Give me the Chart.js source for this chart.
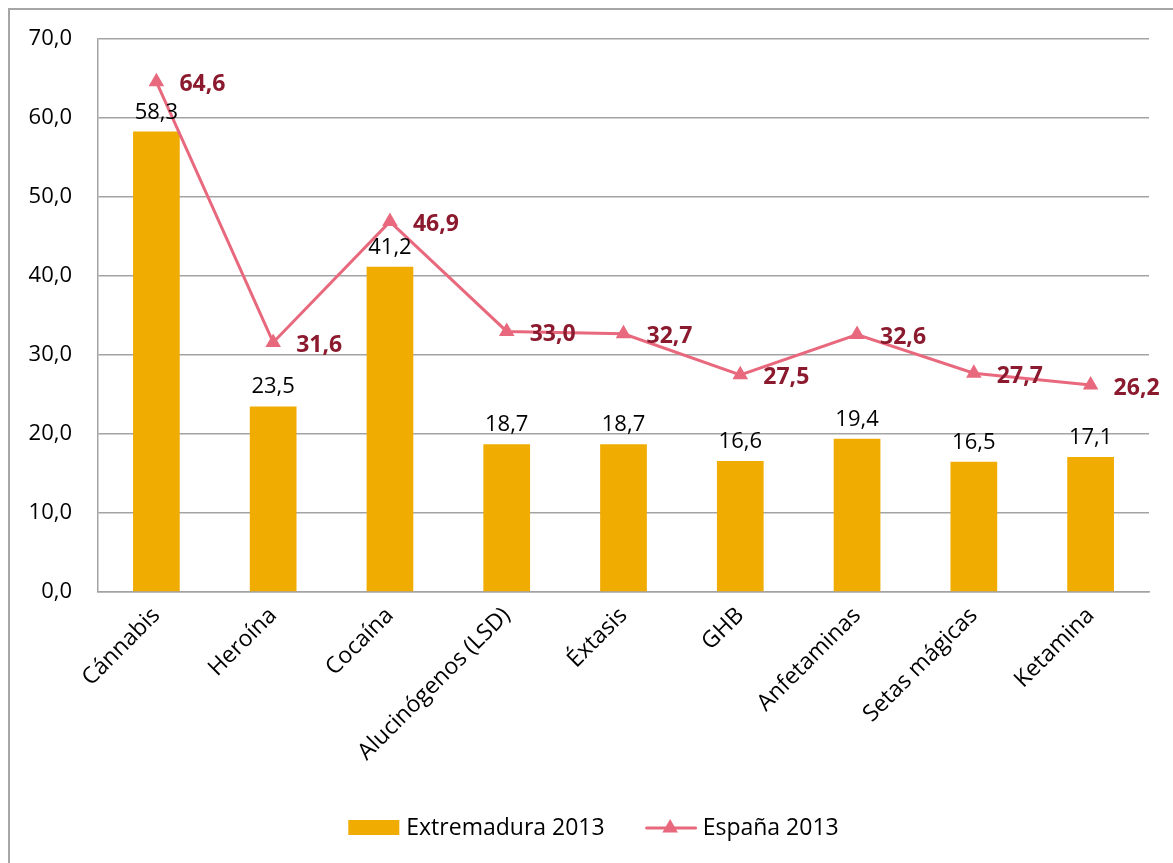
<!DOCTYPE html>
<html>
<head>
<meta charset="utf-8">
<title>Extremadura / España 2013</title>
<script src="https://cdn.jsdelivr.net/npm/chart.js@4/dist/chart.umd.min.js"></script>
<style>
  html, body { margin: 0; padding: 0; background: #fff; }
  #chart { display: block; }
</style>
</head>
<body>
<canvas id="chart" width="1173" height="863"></canvas>
<script>
const categories = ["Cánnabis", "Heroína", "Cocaína", "Alucinógenos (LSD)", "Éxtasis", "GHB", "Anfetaminas", "Setas mágicas", "Ketamina"];
const extremadura = [58.3, 23.5, 41.2, 18.7, 18.7, 16.6, 19.4, 16.5, 17.1];
const espana = [64.6, 31.6, 46.9, 33.0, 32.7, 27.5, 32.6, 27.7, 26.2];
const seriesNames = ["Extremadura 2013", "España 2013"];
const yMax = 70;
const yStep = 10;

const FONT = "'Open Sans', 'DejaVu Sans', sans-serif";
const BAR_COLOR = "#f0ac00";
const LINE_COLOR = "#e8697d";
const LINE_LABEL_COLOR = "#8b1a2e";
const GRID_COLOR = "#a3a3a3";

const fmt = v => Number(v).toFixed(1).replace(".", ",");

// white background plus the grey frame around the whole chart
const framePlugin = {
  id: "frame",
  beforeDraw(chart) {
    const ctx = chart.ctx;
    ctx.save();
    ctx.fillStyle = "#fff";
    ctx.fillRect(0, 0, chart.width, chart.height);
    ctx.strokeStyle = "#a6a6a6";
    ctx.lineWidth = 2;
    ctx.strokeRect(9, 9, chart.width + 20, chart.height + 20);
    ctx.restore();
  }
};

// value labels: black above the bars, dark red to the right of the line points
const valueLabels = {
  id: "valueLabels",
  afterDatasetsDraw(chart) {
    const ctx = chart.ctx;
    ctx.save();
    chart.data.datasets.forEach((ds, i) => {
      const meta = chart.getDatasetMeta(i);
      meta.data.forEach((el, j) => {
        const txt = fmt(ds.data[j]);
        if (ds.type === "bar") {
          ctx.font = "22px " + FONT;
          ctx.fillStyle = "#000";
          ctx.textAlign = "center";
          ctx.textBaseline = "alphabetic";
          ctx.fillText(txt, el.x, el.y - 13);
        } else {
          ctx.font = "bold 23px " + FONT;
          ctx.fillStyle = LINE_LABEL_COLOR;
          ctx.textAlign = "left";
          ctx.textBaseline = "middle";
          ctx.fillText(txt, el.x + 23, el.y + 3);
        }
      });
    });
    ctx.restore();
  }
};

// legend under the rotated category labels
const bottomLegend = {
  id: "bottomLegend",
  afterDraw(chart) {
    const ctx = chart.ctx;
    const y = 828;
    const swatchW = 51, gapText = 7, gapItems = 40;
    ctx.save();
    ctx.font = "23px " + FONT;
    const items = chart.data.datasets
      .slice()
      .sort((a, b) => (a.type === "bar" ? -1 : 1))
      .map(ds => ({ ds, w: swatchW + gapText + ctx.measureText(ds.label).width }));
    const total = items.reduce((s, it) => s + it.w, 0) + gapItems * (items.length - 1);
    let x = chart.width / 2 + 7 - total / 2;
    items.forEach(it => {
      const ds = it.ds;
      if (ds.type === "bar") {
        ctx.fillStyle = ds.backgroundColor;
        ctx.fillRect(x, y - 8, swatchW, 15);
      } else {
        ctx.strokeStyle = ds.borderColor;
        ctx.lineWidth = 3;
        ctx.lineCap = "round";
        ctx.beginPath();
        ctx.moveTo(x + 2, y);
        ctx.lineTo(x + swatchW, y);
        ctx.stroke();
        // triangle marker in the middle of the line sample
        const r = ds.pointRadius;
        const cx = x + swatchW / 2;
        ctx.fillStyle = ds.borderColor;
        ctx.beginPath();
        ctx.moveTo(cx, y - r);
        ctx.lineTo(cx + r * Math.sin(Math.PI / 3), y + r / 2);
        ctx.lineTo(cx - r * Math.sin(Math.PI / 3), y + r / 2);
        ctx.closePath();
        ctx.fill();
      }
      ctx.fillStyle = "#000";
      ctx.textAlign = "left";
      ctx.textBaseline = "middle";
      ctx.fillText(ds.label, x + swatchW + gapText, y);
      x += it.w + gapItems;
    });
    ctx.restore();
  }
};

new Chart(document.getElementById("chart"), {
  data: {
    labels: categories,
    datasets: [
      {
        type: "line",
        label: seriesNames[1],
        data: espana,
        order: 0,
        borderColor: LINE_COLOR,
        backgroundColor: LINE_COLOR,
        borderWidth: 3,
        tension: 0,
        pointStyle: "triangle",
        pointRadius: 9,
        pointBackgroundColor: LINE_COLOR,
        pointBorderColor: LINE_COLOR,
        pointBorderWidth: 0
      },
      {
        type: "bar",
        label: seriesNames[0],
        data: extremadura,
        order: 1,
        backgroundColor: BAR_COLOR,
        barPercentage: 0.4,
        categoryPercentage: 1
      }
    ]
  },
  options: {
    responsive: false,
    animation: false,
    devicePixelRatio: 1,
    layout: { padding: { top: 38, right: 24, left: 0, bottom: 0 } },
    plugins: {
      legend: { display: false },
      tooltip: { enabled: false }
    },
    scales: {
      x: {
        offset: true,
        grid: { display: false, drawTicks: false },
        border: { color: GRID_COLOR, width: 1.5 },
        ticks: {
          minRotation: 45,
          maxRotation: 45,
          padding: 10,
          color: "#000",
          font: { family: FONT, size: 23 }
        },
        afterFit(scale) { scale.height = 863 - 592; }
      },
      y: {
        min: 0,
        max: yMax,
        grid: { color: GRID_COLOR, lineWidth: 1.5, drawTicks: false },
        border: { color: GRID_COLOR, width: 1.5 },
        ticks: {
          stepSize: yStep,
          padding: 26,
          color: "#000",
          font: { family: FONT, size: 22 },
          callback: v => fmt(v)
        },
        afterFit(scale) { scale.width = 98; }
      }
    }
  },
  plugins: [framePlugin, valueLabels, bottomLegend]
});
</script>
</body>
</html>
